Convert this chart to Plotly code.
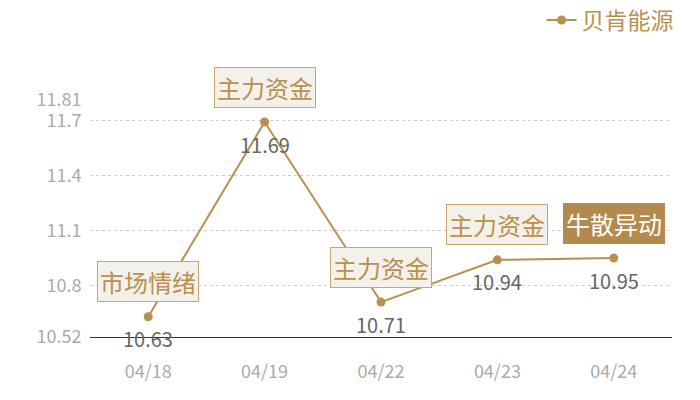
import plotly.graph_objects as go

# データ
dates = ["04/18", "04/19", "04/22", "04/23", "04/24"]
prices = [10.63, 11.69, 10.71, 10.94, 10.95]
tags = ["市场情绪", "主力资金", "主力资金", "主力资金", "牛散异动"]
tag_filled = [False, False, False, False, True]
y_ticks = [10.52, 10.8, 11.1, 11.4, 11.7, 11.81]

gold = "#b8904f"
font_family = "Noto Sans CJK SC"

fig = go.Figure()

fig.add_trace(go.Scatter(
    x=dates, y=prices,
    mode="lines+markers", name="贝肯能源",
    line=dict(color=gold, width=2),
    marker=dict(color=gold, size=9),
))

# 数値ラベル（点の下）
for d, v in zip(dates, prices):
    fig.add_annotation(
        x=d, y=v, xref="x", yref="y",
        text=f"{v:.2f}", showarrow=False, yshift=-22,
        font=dict(size=20, color="#666666", family=font_family),
    )

# タグ（注釈）
for d, v, t, filled in zip(dates, prices, tags, tag_filled):
    fig.add_annotation(
        x=d, y=v, xref="x", yref="y",
        text=t, showarrow=False, yshift=35,
        font=dict(size=24, color="white" if filled else gold, family=font_family),
        bgcolor="#b38a4c" if filled else "#f4f0ea",
        bordercolor="#b38a4c" if filled else "#c9a46e",
        borderwidth=1, borderpad=2,
    )

fig.update_layout(
    width=700, height=400,
    margin=dict(l=82, r=36, t=92, b=71, autoexpand=False),
    plot_bgcolor="white", paper_bgcolor="white",
    font=dict(family=font_family),
    showlegend=True,
    legend=dict(
        xref="container", yref="container",
        x=0.958, y=0.97, xanchor="right", yanchor="middle",
        orientation="h",
        font=dict(size=23, color=gold, family=font_family),
        bgcolor="rgba(0,0,0,0)",
    ),
    xaxis=dict(
        type="category", range=[-0.5, 4.5], automargin=False,
        showgrid=False, showline=True, linecolor="#333333", linewidth=1,
        ticks="outside", ticklen=18, tickcolor="rgba(0,0,0,0)",
        tickfont=dict(size=18, color="#aaaaaa"),
    ),
    yaxis=dict(
        range=[10.52, 11.81], tickvals=y_ticks, automargin=False,
        ticktext=[str(v) for v in y_ticks],
        showgrid=True, gridcolor="#cccccc", griddash="dot", gridwidth=1,
        zeroline=False, showline=False,
        ticks="outside", ticklen=4, tickcolor="rgba(0,0,0,0)",
        tickfont=dict(size=18, color="#aaaaaa"),
    ),
)

fig.write_html("out.html")
